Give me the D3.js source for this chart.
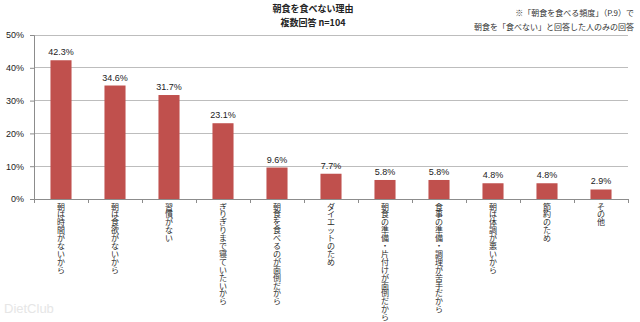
<!DOCTYPE html>
<html><head><meta charset="utf-8">
<script src="https://cdn.jsdelivr.net/npm/d3@7"></script>
<style>
body{margin:0;background:#fff;}
svg{display:block;font-family:"Noto Sans CJK JP","Noto Sans",sans-serif;}
</style></head>
<body>
<svg id="c" width="640" height="322"></svg>
<script>
const categories = ["朝は時間がないから","朝は食欲がないから","習慣がない","ぎりぎりまで寝ていたいから","朝食を食べるのが面倒だから","ダイエットのため","朝食の準備・片付けが面倒だから","食事の準備・調理が苦手だから","朝は体調が悪いから","節約のため","その他"];
const values = [42.3,34.6,31.7,23.1,9.6,7.7,5.8,5.8,4.8,4.8,2.9];
const yTicks = [0,10,20,30,40,50];
const titleLines = ["朝食を食べない理由","複数回答 n=104"];
const noteLines = ["※「朝食を食べる頻度」（P.9）で","朝食を「食べない」と回答した人のみの回答"];

const svg = d3.select("#c");
const m = {l:34, r:628, t:35, b:199};
const x = d3.scaleBand().domain(categories).range([m.l, m.r]).paddingInner(0.61).paddingOuter(0.305);
const y = d3.scaleLinear().domain([0,50]).range([m.b, m.t]);

// gridlines
svg.append("g").selectAll("line").data(yTicks.filter(d=>d>0)).join("line")
  .attr("x1", m.l).attr("x2", m.r).attr("y1", d=>y(d)).attr("y2", d=>y(d))
  .attr("stroke", "#bdbdbd").attr("stroke-width", 1).attr("shape-rendering","crispEdges");

// y axis
const ya = svg.append("g").attr("transform", `translate(${m.l},0)`)
  .call(d3.axisLeft(y).tickValues(yTicks).tickFormat(d=>d+"%").tickSize(4).tickPadding(6));
ya.select(".domain").attr("stroke","#8c8c8c");
ya.selectAll(".tick line").attr("stroke","#8c8c8c");
ya.selectAll("text").attr("font-size","9px").attr("fill","#222").attr("font-family","Liberation Sans, Arial, sans-serif");

// x axis line and ticks at boundaries
const step = x.step();
const bounds = d3.range(categories.length+1).map(i => m.l + i*step);
svg.append("line").attr("x1", m.l).attr("x2", m.r).attr("y1", m.b).attr("y2", m.b)
  .attr("stroke","#8c8c8c").attr("shape-rendering","crispEdges");
svg.append("g").selectAll("line").data(bounds).join("line")
  .attr("x1", d=>d).attr("x2", d=>d).attr("y1", m.b).attr("y2", m.b+4)
  .attr("stroke","#8c8c8c").attr("shape-rendering","crispEdges");

// bars
svg.append("g").selectAll("rect").data(values).join("rect")
  .attr("x", (d,i)=>x(categories[i])).attr("width", x.bandwidth())
  .attr("y", d=>y(d)).attr("height", d=>y(0)-y(d))
  .attr("fill","#c0504d");

// value labels
svg.append("g").selectAll("text").data(values).join("text")
  .attr("x", (d,i)=>x(categories[i])+x.bandwidth()/2).attr("y", d=>y(d)-5)
  .attr("text-anchor","middle").attr("font-size","9px").attr("fill","#222")
  .attr("font-family","Liberation Sans, Arial, sans-serif")
  .text(d=>d.toFixed(1)+"%");

// category labels (vertical, one glyph per line)
const charStep = 7.9;
const lg = svg.append("g");
categories.forEach(cat => {
  const cx = x(cat) + x.bandwidth()/2;
  Array.from(cat).forEach((ch, j) => {
    const cy = m.b + 7 + j*charStep;
    const t = lg.append("text")
      .attr("x", cx).attr("y", cy)
      .attr("text-anchor","middle").attr("dominant-baseline","central")
      .attr("font-size","8px").attr("fill","#2a2a2a").text(ch);
    if (ch === "ー") t.attr("transform", `rotate(90,${cx},${cy})`);
  });
});

// title
svg.append("g").selectAll("text").data(titleLines).join("text")
  .attr("x", 313).attr("y", (d,i)=>12+i*14).attr("text-anchor","middle")
  .attr("font-size","9px").attr("font-weight","bold").attr("fill","#222")
  .text(d=>d);

// note
svg.append("g").selectAll("text").data(noteLines).join("text")
  .attr("x", 634).attr("y", (d,i)=>16+i*14).attr("text-anchor","end")
  .attr("font-size","8px").attr("fill","#333")
  .text(d=>d);

// watermark
svg.append("text").attr("x", 4).attr("y", 313).attr("font-size","13px")
  .attr("fill","#e6e6e6").attr("font-family","Liberation Sans, Arial, sans-serif")
  .text("DietClub");
</script>
</body></html>
